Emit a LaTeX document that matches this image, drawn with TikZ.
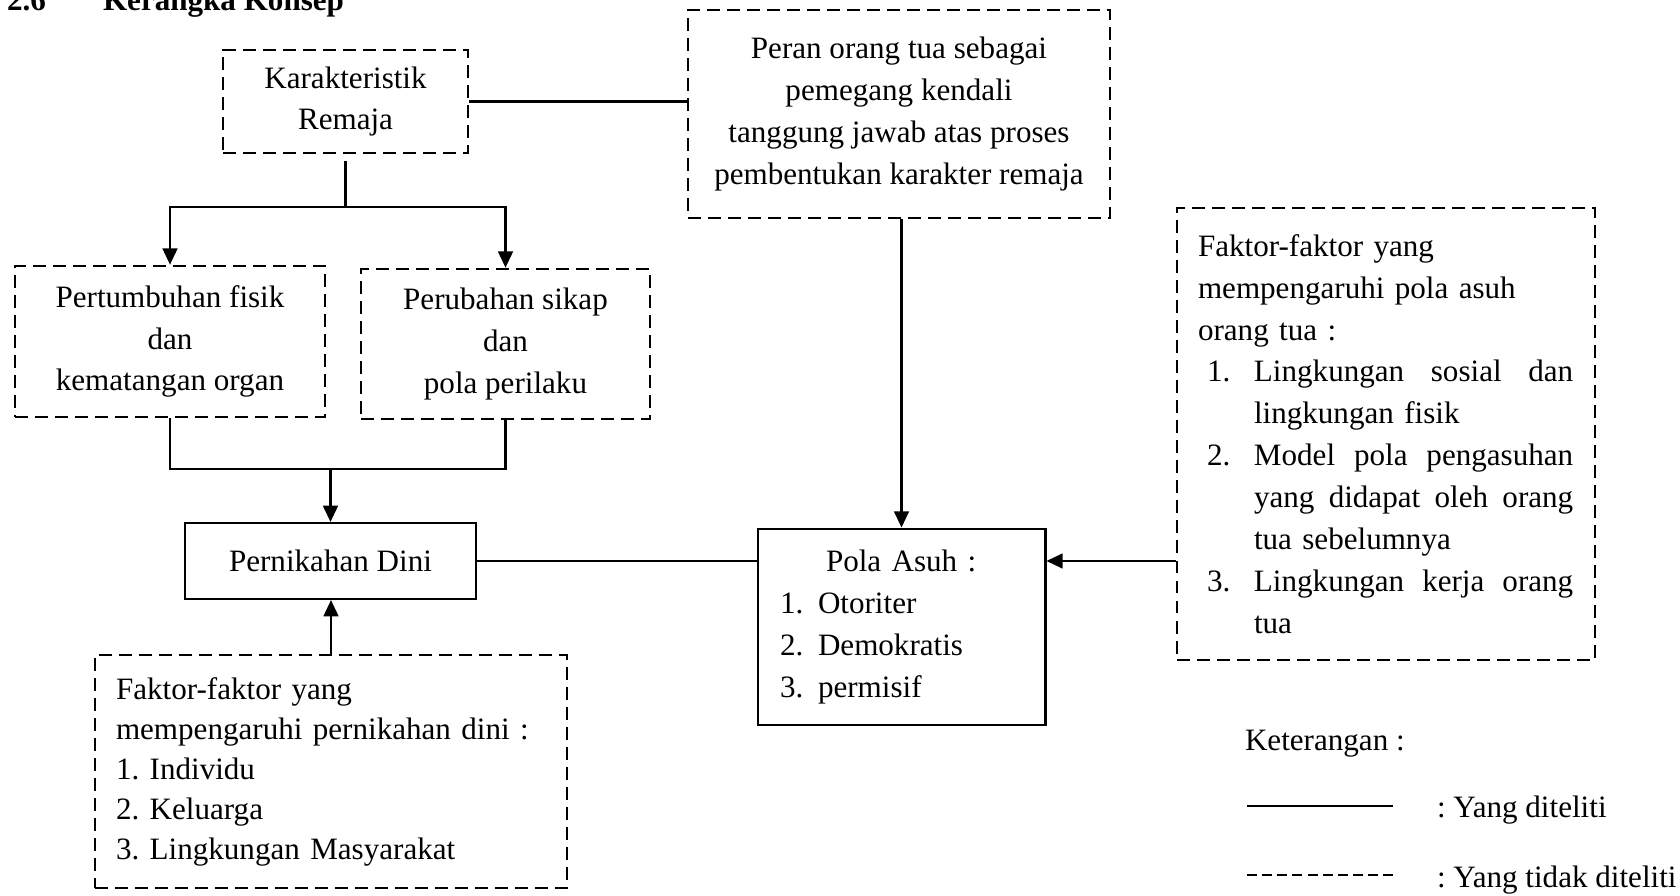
\documentclass[tikz,border=0pt]{standalone}
\usepackage{fontspec}
\setmainfont{Liberation Serif}
\usetikzlibrary{arrows.meta}
\frenchspacing

\tikzset{
  dashbox/.style={draw, dash pattern=on 4.8pt off 2.6pt, line width=1pt, align=center},
  solidbox/.style={draw, line width=0.8pt, align=center},
  arr/.style={-{Triangle[length=6pt,width=5.5pt]}},
}
\newcommand{\jrow}[1]{\hbox to 4.15cm{#1}}

\begin{document}
\begin{tikzpicture}[x=0.013cm, y=-0.013cm, line width=0.75pt, font=\fontsize{11.5}{15.5}\selectfont]
\useasboundingbox (0,0) rectangle (1680,896);
\fill[white] (0,0) rectangle (1680,896);

% judul
\node[anchor=base west, font=\fontsize{11.5}{15.5}\selectfont\bfseries] (nomor) at (-3,11) {2.6};
\node[anchor=base west, font=\fontsize{11.5}{15.5}\selectfont\bfseries] (judul) at (93,11) {Kerangka Konsep};

% kotak
\node[dashbox, minimum width=3.185cm, minimum height=1.339cm] (karak) at (345.5,101.5) {Karakteristik\\Remaja};
\node[dashbox, minimum width=5.486cm, minimum height=2.704cm] (peran) at (899,114)
  {Peran orang tua sebagai\\pemegang kendali\\tanggung jawab atas proses\\pembentukan karakter remaja};
\node[dashbox, minimum width=4.03cm, minimum height=1.963cm] (tumbuh) at (170,341.5) {Pertumbuhan fisik\\dan\\kematangan organ};
\node[dashbox, minimum width=3.757cm, minimum height=1.95cm] (ubah) at (505.5,344) {Perubahan sikap\\dan\\pola perilaku};
\node[solidbox, minimum width=3.783cm, minimum height=0.988cm] (nikah) at (330.5,561) {Pernikahan Dini};
\node[solidbox, line width=1.1pt, align=left, text width=3.159cm, minimum width=3.731cm, minimum height=2.548cm] (pola) at (901.5,627)
  {\makebox[3.15cm]{Pola Asuh :}\\
   \makebox[0.494cm][l]{1.}Otoriter\\
   \makebox[0.494cm][l]{2.}Demokratis\\
   \makebox[0.494cm][l]{3.}permisif};
\node[dashbox, align=left, text width=4.888cm, minimum width=5.434cm, minimum height=5.876cm] (faktorasuh) at (1386,434)
  {Faktor-faktor yang\\
   mempengaruhi pola asuh\\
   orang tua :\\
   \hspace*{0.117cm}\makebox[0.611cm][l]{1.}\jrow{Lingkungan\hfill sosial\hfill dan}\\
   \hspace*{0.728cm}lingkungan fisik\\
   \hspace*{0.117cm}\makebox[0.611cm][l]{2.}\jrow{Model\hfill pola\hfill pengasuhan}\\
   \hspace*{0.728cm}\jrow{yang\hfill didapat\hfill oleh\hfill orang}\\
   \hspace*{0.728cm}tua sebelumnya\\
   \hspace*{0.117cm}\makebox[0.611cm][l]{3.}\jrow{Lingkungan\hfill kerja\hfill orang}\\
   \hspace*{0.728cm}tua};
\node[dashbox, align=left, text width=5.59cm, minimum width=6.136cm, minimum height=3.029cm,
  font=\fontsize{11.5}{14.8}\selectfont] (faktornikah) at (331,771.5)
  {Faktor-faktor yang\\
   mempengaruhi pernikahan dini :\\
   1. Individu\\
   2. Keluarga\\
   3. Lingkungan Masyarakat};

% garis
\draw (karak.east) -- (karak.east -| peran.west);
\coordinate (cabang) at (345.5,207);
\draw (karak.south) ++(0,7) -- (cabang);
\draw[arr] (cabang) -| (tumbuh.north);
\draw[arr] (cabang) -| (ubah.north);
\coordinate (gabung) at (330.5,469);
\draw (tumbuh.south) |- (gabung) -| (ubah.south);
\draw[arr] (gabung) -- (nikah.north);
\draw (nikah.east) -- (nikah.east -| pola.west);
\draw[arr] (pola.north |- peran.south) -- (pola.north);
\draw[arr] (nikah.east -| faktorasuh.west) -- (nikah.east -| pola.east);
\draw[arr] (faktornikah.north) -- (faktornikah.north |- nikah.south);

% keterangan
\node[anchor=base west] (ket) at (1235,750) {Keterangan :};
\coordinate (garisA) at (1247,806);
\coordinate (garisB) at (1393,806);
\draw (garisA) -- (garisB);
\node[anchor=base west] (teliti) at (1427,817) {: Yang diteliti};
\coordinate (putusA) at (1247,875);
\coordinate (putusB) at (1397,875);
\draw[dash pattern=on 3.7pt off 1.9pt] (putusA) -- (putusB);
\node[anchor=base west] (tidak) at (1427,887) {: Yang tidak diteliti};
\end{tikzpicture}
\end{document}
